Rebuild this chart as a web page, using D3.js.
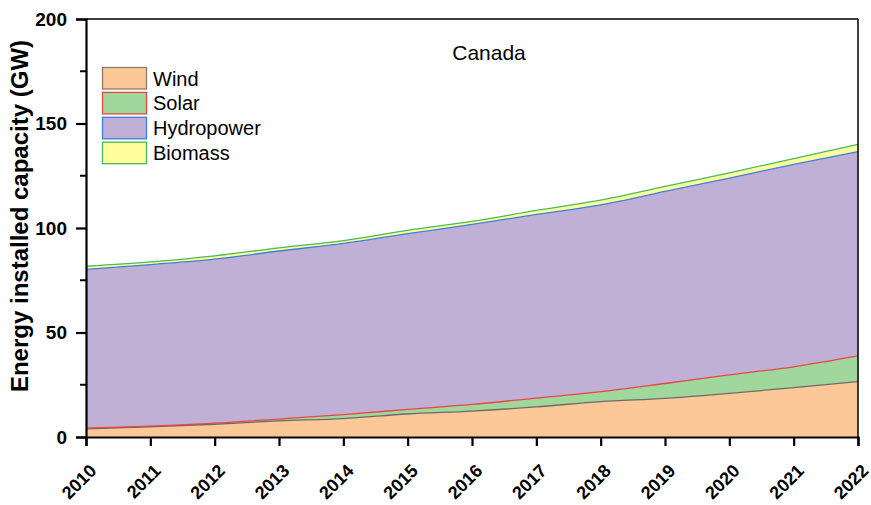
<!DOCTYPE html>
<html>
<head>
<meta charset="utf-8">
<script src="https://cdn.jsdelivr.net/npm/d3@7"></script>
<style>
  body { margin: 0; background: #fff; }
  svg { display: block; font-family: "Liberation Sans", Arial, sans-serif; }
</style>
</head>
<body>
<svg id="chart" width="871" height="505"></svg>
<script>
// Installed capacity in Canada, GW per year
const years = [2010, 2011, 2012, 2013, 2014, 2015, 2016, 2017, 2018, 2019, 2020, 2021, 2022];
const wind = [3.9, 4.9, 6.1, 7.7, 8.8, 11.0, 12.4, 14.4, 16.9, 18.5, 20.9, 23.6, 26.5];
const solar = [0.3, 0.3, 0.5, 0.9, 1.9, 2.2, 3.2, 4.2, 4.8, 7.1, 8.8, 10.0, 12.3];
const hydropower = [76.0, 77.3, 78.5, 80.4, 81.9, 84.1, 86.1, 87.9, 89.4, 91.9, 94.2, 96.8, 97.7];
const biomass = [1.5, 1.3, 1.6, 1.5, 1.4, 1.6, 1.5, 1.9, 2.2, 2.4, 2.5, 2.8, 3.5];
const yTicks = [0, 50, 100, 150, 200];
const yMinorTicks = [25, 75, 125, 175];

const seriesNames = ["Wind", "Solar", "Hydropower", "Biomass"];
const seriesValues = [wind, solar, hydropower, biomass];
const fills = ["#fdc898", "#9fd79c", "#c0b0d6", "#ffff9e"];
const strokes = ["#6f6a68", "#e8463e", "#3a7fe0", "#4cb85e"];
const legendBorders = ["#8d7b6d", "#e8463e", "#3a7fe0", "#4cb85e"];

const rows = years.map((y, i) => {
  const r = { year: y };
  seriesNames.forEach((n, k) => r[n] = seriesValues[k][i]);
  return r;
});

const svg = d3.select("#chart");
const margin = { left: 86, right: 13, top: 19, bottom: 68 };
const W = 871, H = 505;

const x = d3.scaleLinear().domain([2010, 2022]).range([margin.left, W - margin.right]);
const y = d3.scaleLinear().domain([0, 200]).range([H - margin.bottom, margin.top]);

const stacked = d3.stack().keys(seriesNames)(rows);
const curve = d3.curveMonotoneX;

const area = d3.area()
  .x(d => x(d.data.year))
  .y0(d => y(d[0]))
  .y1(d => y(d[1]))
  .curve(curve);
const topLine = d3.line()
  .x(d => x(d.data.year))
  .y(d => y(d[1]))
  .curve(curve);

const g = svg.append("g");
stacked.forEach((s, k) => {
  g.append("path").attr("d", area(s)).attr("fill", fills[k]).attr("stroke", "none");
});
stacked.forEach((s, k) => {
  g.append("path").attr("d", topLine(s)).attr("fill", "none")
    .attr("stroke", strokes[k]).attr("stroke-width", 1.3);
});

// frame: top and right edges
svg.append("line").attr("x1", x(2010)).attr("x2", x(2022)).attr("y1", y(200)).attr("y2", y(200))
  .attr("stroke", "#000").attr("stroke-width", 1.5);
svg.append("line").attr("x1", x(2022)).attr("x2", x(2022)).attr("y1", y(200)).attr("y2", y(0))
  .attr("stroke", "#000").attr("stroke-width", 1.5);

// y axis
const yAxis = svg.append("g").attr("transform", `translate(${x(2010)},0)`)
  .call(d3.axisLeft(y).tickValues(yTicks).tickSize(10).tickPadding(9));
yAxis.selectAll(".tick text").attr("font-size", 19).attr("font-weight", "bold").attr("fill", "#000");
yAxis.append("g").selectAll("line").data(yMinorTicks).join("line")
  .attr("x1", 0).attr("x2", -6).attr("y1", d => y(d)).attr("y2", d => y(d))
  .attr("stroke", "#000").attr("stroke-width", 2);

// x axis
const xAxis = svg.append("g").attr("transform", `translate(0,${y(0)})`)
  .call(d3.axisBottom(x).tickValues(years).tickFormat(d3.format("d")).tickSize(9));
xAxis.selectAll(".tick text")
  .attr("font-size", 18).attr("font-weight", "bold").attr("fill", "#000")
  .attr("text-anchor", "end")
  .attr("x", 0).attr("y", 0).attr("dy", 0)
  .attr("transform", "translate(11,35) rotate(-45)");

[yAxis, xAxis].forEach(a => {
  a.selectAll(".domain").attr("stroke", "#000").attr("stroke-width", 2.2);
  a.selectAll(".tick line").attr("stroke", "#000").attr("stroke-width", 2.2);
});

// y axis title
svg.append("text")
  .attr("transform", `translate(28,216) rotate(-90)`)
  .attr("text-anchor", "middle")
  .attr("font-size", 24).attr("font-weight", "bold")
  .text("Energy installed capacity (GW)");

// chart title
svg.append("text").attr("x", 489).attr("y", 60).attr("text-anchor", "middle")
  .attr("font-size", 21).text("Canada");

// legend
const legend = svg.append("g").attr("transform", "translate(102,67)");
seriesNames.forEach((n, k) => {
  const row = legend.append("g").attr("transform", `translate(0,${k * 24.9})`);
  row.append("rect").attr("x", 0.5).attr("y", 0.5).attr("width", 44).attr("height", 21.5)
    .attr("fill", fills[k]).attr("stroke", legendBorders[k]).attr("stroke-width", 1.3);
  row.append("text").attr("x", 51).attr("y", 18.5).attr("font-size", 20).text(n);
});
</script>
</body>
</html>
